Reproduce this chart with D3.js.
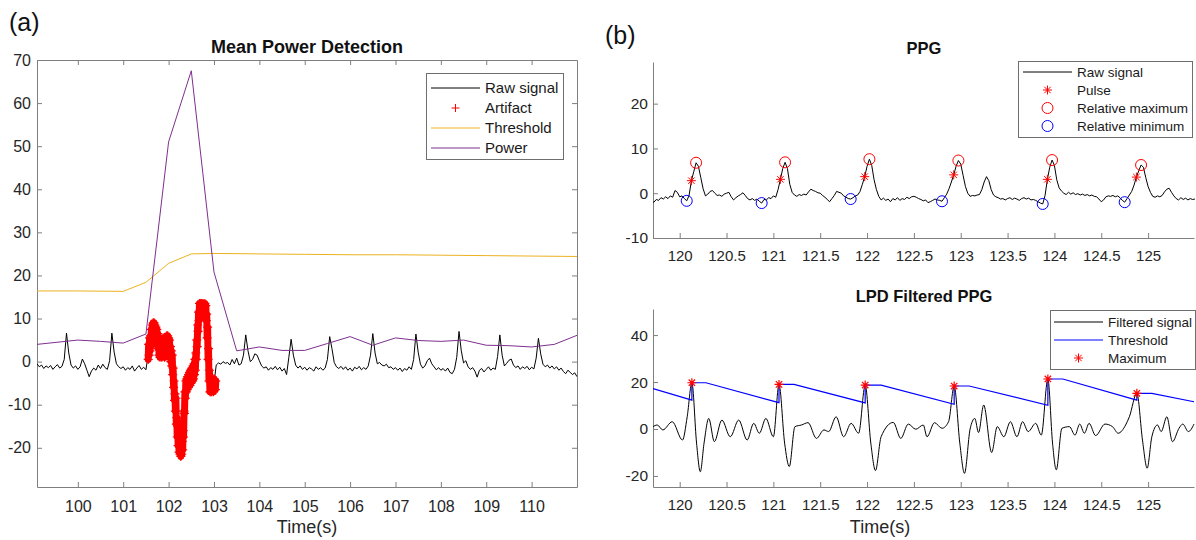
<!DOCTYPE html>
<html>
<head>
<meta charset="utf-8">
<script src="https://cdn.jsdelivr.net/npm/d3@7"></script>
<style>
body { margin: 0; background: #fff; }
svg { font-family: Arial, "Liberation Sans", Helvetica, sans-serif; }
.domain, .tick line { stroke: #7f7f7f; }
.tick text { fill: #262626; }
</style>
</head>
<body>
<script>
/* ============================ DATA ============================ */

// (a) raw PPG, one sample every 0.05 s from 99.10 s
var rawAStart = 99.1, rawAStep = 0.05;
var rawA = [
  -0.5, -1.2, -0.8, -1.6, -1.0, -1.4, -0.9, -1.8, -1.2, -0.7, -1.5, -1.1, 0.5, 6.6, 2.0, -0.8, -1.5, -1.0, -1.8, -1.2,
  0.6, -0.5, -2.0, -3.5, -2.2, -1.5, -2.0, -0.8, -1.6, -0.6, -1.4, -1.8, 0.2, 6.6, 2.2, -0.5, -1.2, -1.6, -1.2, -2.0,
  -1.4, -1.8, -1.0, -2.2, -1.5, -0.9, -1.8, -1.3, -1.9, 1.5, 5.0, 6.0, 7.5, 5.0, 3.0, 2.0, 3.5, 3.5, 4.0, 1.5,
  -3.0, -10.0, -17.0, -20.5, -20.0, -10.5, -5.5, -4.0, -3.5, -2.5, 0.5, 8.5, 12.5, 12.0, 12.5, 7.0, -5.0, -5.5, -5.0, -0.8,
  -0.3, -0.6, 0.0, -0.4, -0.2, -0.8, 0.5, -0.5, 0.8, -0.8, -0.5, 1.5, 6.2, 2.5, 0.0, 0.5, 1.8, 1.5, 0.2, -1.0,
  -1.5, -1.2, -2.0, -1.4, -1.8, -1.1, -1.9, -1.3, -2.2, -1.6, -3.0, 1.0, 5.2, 1.5, -0.8, -1.5, -1.0, -1.8, -1.3, -2.0,
  -1.4, -1.7, -2.2, -1.2, -1.8, -1.4, -2.0, -1.5, 0.5, 5.8, 3.0, -0.2, -1.2, -1.6, -1.1, -1.8, -1.2, -2.0, -1.5, -2.2,
  -1.3, -1.7, -1.1, -1.9, -1.4, -1.8, -1.0, 1.5, 6.5, 2.0, -0.5, -0.2, -0.8, -1.0, -0.6, -1.4, -1.2, -1.8, -1.4, -2.0,
  -1.5, -2.3, -1.6, -2.0, -1.2, -1.8, 0.5, 6.4, 2.2, -0.6, -1.5, -1.0, 0.2, 0.8, -0.5, -1.2, -1.9, -1.4, -2.0, -1.6,
  -2.2, -1.5, -2.5, -2.8, -1.8, 1.0, 7.0, 2.5, -0.3, 0.2, -1.2, -1.8, -1.4, -2.2, -3.6, -2.0, -1.6, -2.4, -1.8, -1.2,
  -2.0, -1.5, -1.8, 1.2, 6.2, 1.5, -1.0, -0.4, 0.3, 0.6, -0.8, -1.4, -1.0, -1.8, -1.2, -1.6, -1.1, -1.9, -1.3, -1.7,
  0.8, 5.4, 1.8, -0.6, -1.2, -0.8, -1.5, -1.0, -1.7, -1.2, -2.0, -1.5, -2.3, -2.8, -2.0, -2.5, -3.0, -2.6, -3.5
];

// (a) artifact samples, every 0.01 s from 101.55 s
var artStart = 101.55, artStep = 0.01;
var artifact = [
  0.5, 4.0, 1.5, 5.5, 2.5, 6.0, 3.5, 7.5, 4.5, 8.5,
  5.0, 9.0, 5.5, 9.0, 6.0, 8.5, 5.5, 8.0, 4.5, 7.5,
  4.0, 6.5, 3.0, 5.0, 1.5, 4.5, 1.0, 5.0, 1.5, 4.5,
  1.0, 5.0, 2.0, 5.5, 1.5, 5.0, 1.0, 4.5, 2.5, 5.5,
  2.5, 6.0, 3.0, 6.0, 3.5, 5.5, 3.0, 5.0, 1.5, 3.5,
  0.0, 2.5, -1.0, 1.5, -3.0, -1.5, -6.0, -4.5, -9.0, -7.5,
  -11.5, -8.5, -14.5, -13.0, -17.5, -15.0, -19.5, -17.5, -21.0, -18.5,
  -21.5, -19.5, -22.0, -19.5, -21.5, -18.5, -20.5, -16.0, -17.5, -11.5,
  -12.0, -7.0, -8.5, -4.5, -7.0, -4.0, -6.5, -3.5, -6.0, -3.0,
  -5.5, -2.5, -5.5, -2.0, -5.0, -2.0, -4.5, -1.5, -4.5, -1.0,
  -4.0, -0.5, -3.0, 0.5, -2.0, 2.0, 0.5, 5.0, 3.5, 8.5,
  7.0, 11.5, 9.5, 13.5, 11.0, 13.5, 10.5, 13.5, 10.5, 13.5,
  10.5, 13.5, 10.5, 13.0, 10.5, 13.5, 10.5, 13.0, 9.5, 11.0,
  5.5, 8.0, 0.5, 3.0, -4.5, -2.0, -7.0, -4.5, -7.0, -4.5,
  -7.0, -4.0, -6.5, -4.5, -7.0, -4.0, -6.5, -4.5, -6.5, -4.5
];

// (a) threshold and power (window vertices)
var thrATime = [99.1, 100, 101, 101.5, 102, 102.5, 103, 104, 105, 106, 107, 108, 109, 110, 111];
var thrAVal  = [16.4, 16.4, 16.3, 18.4, 22.8, 25.0, 25.1, 25.0, 24.9, 24.8, 24.8, 24.7, 24.6, 24.5, 24.4];
var powTime = [99.1, 100, 100.5, 101, 101.5, 102, 102.5, 103, 103.5, 104, 104.5, 105, 105.5, 106, 106.5, 107, 107.5, 108, 108.5, 109, 109.5, 110, 110.5, 111];
var powVal  = [4.0, 5.0, 4.7, 4.3, 6.4, 51.0, 67.5, 20.8, 2.5, 3.4, 2.6, 2.6, 4.2, 5.8, 3.8, 5.5, 4.9, 4.7, 5.0, 3.8, 3.7, 3.4, 4.0, 6.1];

var xTicksA = [100, 101, 102, 103, 104, 105, 106, 107, 108, 109, 110];
var yTicksA = [-20, -10, 0, 10, 20, 30, 40, 50, 60, 70];

// (b) PPG raw signal, every 0.025 s from 119.70 s
var rawBStart = 119.7, rawBStep = 0.025;
var rawB = [
  -1.9, -2.0, -1.4, -1.6, -1.0, -1.3, -0.8, -1.2,
  -0.6, -0.9, 0.6, 0.2, -0.8, -0.6, -1.2, -1.7,
  -0.5, 2.8, 4.8, 6.8, 6.0, 3.5, 1.0, -0.6,
  -0.2, 0.4, 0.6, 0.0, -0.5, -0.4, -0.7, -0.2,
  0.0, 0.2, -0.8, -1.5, -1.0, -0.6, -0.3, 0.1,
  -0.5, -1.2, -1.5, -1.2, -1.6, -1.3, -1.8, -2.2,
  -1.4, -1.5, -1.0, -1.2, -0.6, -0.9, 0.8, 3.1,
  5.5, 6.9, 5.5, 2.0, 0.2, -0.4, -0.7, -0.3,
  -0.5, -0.2, -0.4, 0.3, 0.9, 0.6, 0.4, 0.1,
  0.0, -0.5, -0.9, -1.4, -1.9, -1.2, -0.5, 0.4,
  0.2, 0.0, -0.6, -0.9, -1.2, -1.3, -1.0, -0.6,
  -0.4, 0.4, 2.0, 3.7, 6.0, 7.6, 6.2, 3.0,
  0.8, -0.7, -1.5, -1.1, -1.6, -1.3, -1.9, -1.2,
  -1.5, -1.0, -1.6, -1.2, -1.4, -0.9, -1.2, -0.8,
  -0.7, -0.9, -1.2, -1.4, -1.7, -1.5, -2.1, -1.9,
  -1.6, -1.3, -1.5, -1.6, -1.8, -1.0, -0.2, 1.0,
  2.5, 4.1, 6.0, 7.3, 6.5, 4.0, 1.5, 0.0,
  -0.7, -0.5, -0.6, -0.4, -0.3, 0.8, 2.5, 3.7,
  2.8, 0.8, -0.4, -0.8, -1.0, -1.3, -1.2, -1.5,
  -1.2, -1.0, -1.4, -1.1, -1.3, -1.6, -1.2, -1.0,
  -1.3, -1.1, -1.5, -1.4, -1.6, -1.9, -2.2, -2.4,
  -0.5, 3.1, 5.8, 7.4, 6.2, 3.0, 1.2, 0.5,
  0.0, -0.3, 0.2, -0.2, 0.1, -0.3, -0.1, -0.4,
  -0.2, -0.5, -0.3, -0.6, -0.4, -0.7, -0.8, -1.3,
  -1.9, -1.5, -0.8, -0.6, -0.7, -0.5, -0.8, -0.6,
  -1.0, -1.6, -2.0, -1.2, -0.4, 0.4, 1.8, 3.6,
  5.0, 6.3, 5.8, 3.5, 1.5, 0.2, -0.7, -0.9,
  -0.6, -0.8, -0.5, 0.3, 0.9, 1.1, 0.2, -0.6,
  -1.2, -1.5, -1.0, -1.4, -1.1, -1.5, -1.2, -1.4,
  -1.3
];
var pulseTime  = [120.125, 121.075, 121.975, 122.925, 123.925, 124.875];
var pulseVal   = [2.8, 3.1, 3.7, 4.1, 3.1, 3.6];
var relMaxTime = [120.175, 121.125, 122.025, 122.975, 123.975, 124.925];
var relMaxVal  = [6.8, 6.9, 7.6, 7.3, 7.4, 6.3];
var relMinTime = [120.075, 120.875, 121.825, 122.8, 123.875, 124.75];
var relMinVal  = [-1.7, -2.2, -1.3, -1.8, -2.4, -2.0];

// (b) LPD filtered signal (turning points), threshold and maxima
var filtTime = [119.715, 119.76, 119.82, 119.92, 120.03, 120.08, 120.13, 120.18, 120.22, 120.26, 120.31, 120.37, 120.45, 120.54, 120.63, 120.72, 120.79, 120.85, 120.92, 121.0,
  121.06, 121.12, 121.17, 121.23, 121.30, 121.37, 121.46, 121.54, 121.59, 121.67, 121.75, 121.83, 121.91, 121.98, 122.04, 122.09, 122.15, 122.28, 122.36, 122.44,
  122.52, 122.60, 122.64, 122.72, 122.80, 122.87, 122.93, 122.99, 123.04, 123.10, 123.15, 123.19, 123.245, 123.33, 123.39, 123.46, 123.53, 123.60, 123.66, 123.72,
  123.80, 123.86, 123.93, 123.98, 124.02, 124.08, 124.16, 124.22, 124.27, 124.32, 124.37, 124.44, 124.54, 124.62, 124.68, 124.76, 124.80, 124.88, 124.94, 124.99,
  125.04, 125.10, 125.14, 125.20, 125.26, 125.33, 125.37, 125.43, 125.49];
var filtVal = [1.0, 1.7, -0.4, 3.1, -4.7, 5.2, 19.7, -6.0, -18.2, -6.0, 4.5, -5.4, 3.8, -3.3, 3.8, -4.7, 2.4, -1.8, 4.5, -3.3,
  19.0, -6.0, -16.0, 1.0, 1.7, 2.7, -4.0, -0.4, -1.1, 5.2, -3.3, 2.4, -1.8, 18.7, -6.0, -17.7, -3.3, 2.8, -4.0, 2.1,
  -0.1, 1.7, -3.3, 2.7, 0.3, 3.1, 18.3, -6.0, -18.9, 0.0, 4.5, -1.5, 10.2, -10.0, 1.0, -3.3, 3.1, -3.3, 3.1, -1.1,
  2.4, -2.6, 21.3, -6.0, -17.4, 0.3, 1.0, -2.6, 2.1, -1.8, 2.4, -2.8, 2.1, 1.0, -1.8, 1.7, 5.2, 15.2, -4.7, -16.7,
  -3.3, 1.7, -1.1, 5.2, -5.4, 0.3, 2.1, -1.1, 2.1];
var thrBTime = [119.715, 120.13, 120.13, 120.28, 121.06, 121.06, 121.22, 121.98, 121.98, 122.15, 122.93, 122.93, 123.09, 123.93, 123.93, 124.09, 124.88, 124.88, 125.04, 125.49];
var thrBVal  = [17.2, 12.3, 19.7, 19.7, 11.2, 19.0, 19.0, 11.1, 18.7, 18.7, 10.5, 18.3, 18.3, 10.1, 21.3, 21.3, 12.3, 15.2, 15.2, 11.6];
var maxTime = [120.13, 121.06, 121.98, 122.93, 123.93, 124.88];
var maxVal  = [19.7, 19.0, 18.7, 18.3, 21.3, 15.2];

var xTicksB = [120, 120.5, 121, 121.5, 122, 122.5, 123, 123.5, 124, 124.5, 125];
var yTicksB1 = [-10, 0, 10, 20];
var yTicksB2 = [-20, 0, 20, 40];

/* ============================ SETUP ============================ */
var width = 1196, height = 540;
var FONT = 'Arial, "Liberation Sans", Helvetica, sans-serif';
var plain = function(d) { return String(d); };

var svg = d3.select('body').append('svg')
    .attr('width', width)
    .attr('height', height);

var defs = svg.append('defs');
function clip(id, x0, x1, y0, y1) {
  defs.append('clipPath').attr('id', id)
    .append('rect').attr('x', x0).attr('y', y0).attr('width', x1 - x0).attr('height', y1 - y0);
  return 'url(#' + id + ')';
}

var plusPath = 'M-4,0H4M0,-4V4';
var bigPlus = 'M-4.5,0H4.5M0,-4.5V4.5';
var starPath = 'M-4.5,0H4.5M0,-4.5V4.5M-3.2,-3.2L3.2,3.2M-3.2,3.2L3.2,-3.2';

function styleAxis(g, size) {
  g.attr('font-size', size).attr('font-family', FONT);
  g.selectAll('.tick text').attr('fill', '#262626');
}

function legendBox(x0, y0, w, h, items, fs, lineX0, lineX1, textX) {
  var g = svg.append('g');
  g.append('rect').attr('x', x0 + 0.5).attr('y', y0 + 0.5).attr('width', w).attr('height', h)
    .attr('fill', '#fff').attr('stroke', '#6e6e6e').attr('stroke-width', 1);
  items.forEach(function(it) {
    var mx = (lineX0 + lineX1) / 2;
    if (it.type == 'line') {
      g.append('line').attr('x1', lineX0).attr('x2', lineX1).attr('y1', it.y).attr('y2', it.y)
        .attr('stroke', it.color).attr('stroke-width', 1);
    } else if (it.type == 'circle') {
      g.append('circle').attr('cx', mx).attr('cy', it.y).attr('r', 5.5)
        .attr('fill', 'none').attr('stroke', it.color).attr('stroke-width', 1);
    } else {
      g.append('path').attr('d', it.type == 'plus' ? plusPath : starPath)
        .attr('transform', 'translate(' + [mx, it.y] + ')')
        .attr('stroke', it.color).attr('stroke-width', 1).attr('fill', 'none');
    }
    g.append('text').attr('x', textX).attr('y', it.y).attr('dy', '0.35em')
      .attr('font-size', fs).attr('fill', '#1a1a1a').text(it.label);
  });
}

/* ============================ PANEL (a) ============================ */
var xA = d3.scaleLinear().domain([99.1, 111.0]).range([37, 577]);
var yA = d3.scaleLinear().domain([-29.1, 70]).range([487, 60]);

svg.append('text').attr('x', 9).attr('y', 31).attr('font-size', 25).attr('fill', '#111').text('(a)');
svg.append('text').attr('x', 307).attr('y', 53).attr('text-anchor', 'middle')
    .attr('font-size', 18).attr('font-weight', 'bold').attr('fill', '#111').text('Mean Power Detection');

var gA = svg.append('g');
gA.append('g').attr('transform', 'translate(0,487)')
    .call(d3.axisBottom(xA).tickValues(xTicksA).tickFormat(plain).tickSize(-5).tickSizeOuter(0).tickPadding(13.6))
    .call(styleAxis, 16);
gA.append('g').attr('transform', 'translate(0,60)')
    .call(d3.axisTop(xA).tickValues(xTicksA).tickFormat('').tickSize(-5).tickSizeOuter(0))
    .call(styleAxis, 16);
gA.append('g').attr('transform', 'translate(37,0)')
    .call(d3.axisLeft(yA).tickValues(yTicksA).tickFormat(plain).tickSize(-5).tickSizeOuter(0).tickPadding(6))
    .call(styleAxis, 16);
gA.append('g').attr('transform', 'translate(577,0)')
    .call(d3.axisRight(yA).tickValues(yTicksA).tickFormat('').tickSize(-5).tickSizeOuter(0))
    .call(styleAxis, 16);

svg.append('text').attr('x', 307).attr('y', 533).attr('text-anchor', 'middle')
    .attr('font-size', 18).attr('fill', '#262626').text('Time(s)');

var plotA = svg.append('g').attr('clip-path', clip('clipA', 37, 577, 60, 487));

plotA.append('path')
    .datum(rawA)
    .attr('fill', 'none').attr('stroke', '#000').attr('stroke-width', 1)
    .attr('d', d3.line()
      .x(function(d, i) { return xA(rawAStart + i * rawAStep); })
      .y(function(d) { return yA(d); }));

// dense '+' markers merge into a solid band, so trace it underneath
var artX = function(d, i) { return xA(artStart + i * artStep); };
plotA.append('path')
    .datum(artifact)
    .attr('fill', 'none').attr('stroke', '#ff0000').attr('stroke-width', 7)
    .attr('stroke-linejoin', 'round').attr('stroke-linecap', 'round')
    .attr('d', d3.line().x(artX).y(function(d) { return yA(d); }));

plotA.selectAll('.art')
    .data(artifact)
  .enter().append('path')
    .attr('class', 'art')
    .attr('d', bigPlus)
    .attr('transform', function(d, i) { return 'translate(' + [artX(d, i), yA(d)] + ')'; })
    .attr('stroke', '#ff0000').attr('stroke-width', 1.2).attr('fill', 'none');

plotA.append('path')
    .datum(d3.zip(thrATime, thrAVal))
    .attr('fill', 'none').attr('stroke', '#EDB120').attr('stroke-width', 1)
    .attr('d', d3.line().x(d => xA(d[0])).y(d => yA(d[1])));

plotA.append('path')
    .datum(d3.zip(powTime, powVal))
    .attr('fill', 'none').attr('stroke', '#7E2F8E').attr('stroke-width', 1)
    .attr('d', d3.line().x(d => xA(d[0])).y(d => yA(d[1])));

legendBox(426, 73, 137, 86, [
  {label: 'Raw signal', type: 'line', color: '#000', y: 88},
  {label: 'Artifact', type: 'plus', color: '#ff0000', y: 108},
  {label: 'Threshold', type: 'line', color: '#EDB120', y: 128},
  {label: 'Power', type: 'line', color: '#7E2F8E', y: 148}
], 15, 431, 480, 485);

/* ============================ PANEL (b) ============================ */
var xB = d3.scaleLinear().domain([119.715, 125.49]).range([653, 1194]);
var yB1 = d3.scaleLinear().domain([-10, 29.3]).range([238, 62]);
var yB2 = d3.scaleLinear().domain([-24.7, 51.1]).range([487, 309]);

svg.append('text').attr('x', 605).attr('y', 44).attr('font-size', 25).attr('fill', '#111').text('(b)');
svg.append('text').attr('x', 924).attr('y', 54).attr('text-anchor', 'middle')
    .attr('font-size', 16.5).attr('font-weight', 'bold').attr('fill', '#111').text('PPG');
svg.append('text').attr('x', 924).attr('y', 302).attr('text-anchor', 'middle')
    .attr('font-size', 16.5).attr('font-weight', 'bold').attr('fill', '#111').text('LPD Filtered PPG');
svg.append('text').attr('x', 880).attr('y', 533).attr('text-anchor', 'middle')
    .attr('font-size', 18).attr('fill', '#262626').text('Time(s)');

function axesB(yS, yTicks, yBottom) {
  var g = svg.append('g');
  g.append('g').attr('transform', 'translate(0,' + yBottom + ')')
    .call(d3.axisBottom(xB).tickValues(xTicksB).tickFormat(plain).tickSize(-5).tickSizeOuter(0).tickPadding(12.3))
    .call(styleAxis, 15);
  g.append('g').attr('transform', 'translate(653,0)')
    .call(d3.axisLeft(yS).tickValues(yTicks).tickFormat(plain).tickSize(-5).tickSizeOuter(0).tickPadding(5))
    .call(styleAxis, 15.5);
}
axesB(yB1, yTicksB1, 238);
axesB(yB2, yTicksB2, 487);

// top: PPG
var plotB1 = svg.append('g').attr('clip-path', clip('clipB1', 653, 1196, 50, 238));
plotB1.append('path')
    .datum(rawB)
    .attr('fill', 'none').attr('stroke', '#000').attr('stroke-width', 1)
    .attr('d', d3.line()
      .x(function(d, i) { return xB(rawBStart + i * rawBStep); })
      .y(function(d) { return yB1(d); }));

plotB1.selectAll('.pulse')
    .data(d3.zip(pulseTime, pulseVal))
  .enter().append('path')
    .attr('d', starPath)
    .attr('transform', d => 'translate(' + [xB(d[0]), yB1(d[1])] + ')')
    .attr('stroke', '#ff0000').attr('stroke-width', 1).attr('fill', 'none');

plotB1.selectAll('.rmax')
    .data(d3.zip(relMaxTime, relMaxVal))
  .enter().append('circle')
    .attr('cx', d => xB(d[0])).attr('cy', d => yB1(d[1])).attr('r', 5.5)
    .attr('fill', 'none').attr('stroke', '#ff0000').attr('stroke-width', 1);

plotB1.selectAll('.rmin')
    .data(d3.zip(relMinTime, relMinVal))
  .enter().append('circle')
    .attr('cx', d => xB(d[0])).attr('cy', d => yB1(d[1])).attr('r', 5.5)
    .attr('fill', 'none').attr('stroke', '#0000ff').attr('stroke-width', 1);

legendBox(1018, 61, 174, 76, [
  {label: 'Raw signal', type: 'line', color: '#000', y: 72},
  {label: 'Pulse', type: 'star', color: '#ff0000', y: 90},
  {label: 'Relative maximum', type: 'circle', color: '#ff0000', y: 108},
  {label: 'Relative minimum', type: 'circle', color: '#0000ff', y: 126}
], 13.5, 1023, 1072, 1077);

// bottom: LPD filtered
var plotB2 = svg.append('g').attr('clip-path', clip('clipB2', 653, 1196, 300, 487));
plotB2.append('path')
    .datum(d3.zip(filtTime, filtVal))
    .attr('fill', 'none').attr('stroke', '#000').attr('stroke-width', 1)
    .attr('d', d3.line().curve(d3.curveMonotoneX).x(d => xB(d[0])).y(d => yB2(d[1])));

plotB2.append('path')
    .datum(d3.zip(thrBTime, thrBVal))
    .attr('fill', 'none').attr('stroke', '#0000ff').attr('stroke-width', 1.2)
    .attr('d', d3.line().x(d => xB(d[0])).y(d => yB2(d[1])));

plotB2.selectAll('.mx')
    .data(d3.zip(maxTime, maxVal))
  .enter().append('path')
    .attr('d', starPath)
    .attr('transform', d => 'translate(' + [xB(d[0]), yB2(d[1])] + ')')
    .attr('stroke', '#ff0000').attr('stroke-width', 1.2).attr('fill', 'none');

legendBox(1050, 310, 145, 59, [
  {label: 'Filtered signal', type: 'line', color: '#000', y: 322},
  {label: 'Threshold', type: 'line', color: '#0000ff', y: 340},
  {label: 'Maximum', type: 'star', color: '#ff0000', y: 358}
], 13.5, 1054, 1103, 1108);
</script>
</body>
</html>
